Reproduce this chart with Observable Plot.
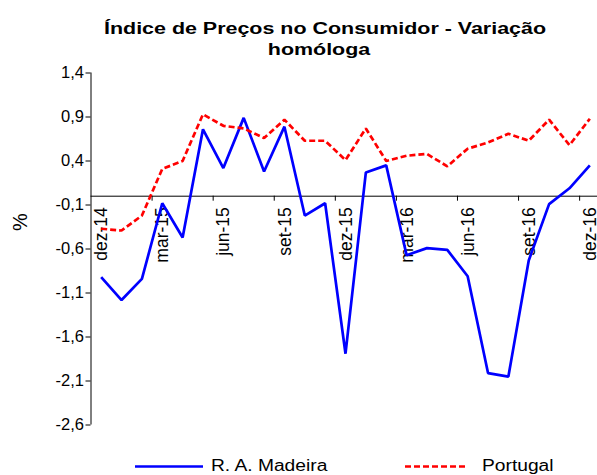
<!DOCTYPE html>
<html>
<head>
<meta charset="utf-8">
<script src="https://cdn.jsdelivr.net/npm/d3@7"></script>
<script src="https://cdn.jsdelivr.net/npm/@observablehq/plot@0.6"></script>
<style>
  html, body { margin: 0; padding: 0; background: #fff; }
  #wrap { position: relative; width: 597px; height: 475px; overflow: hidden; font-family: "Liberation Sans", Arial, sans-serif; color: #000; }
  #chart { position: absolute; left: 0; top: 0; }
  .title { position: absolute; white-space: nowrap; font-weight: bold; font-size: 16px; line-height: 16px; transform: translateX(-50%) scaleX(1.34); }
  #pct { position: absolute; left: 20px; top: 222px; font-size: 20px; line-height: 20px; transform: translate(-50%, -50%) rotate(-90deg); }
  .legtext { position: absolute; white-space: nowrap; font-size: 16px; line-height: 16px; transform-origin: 0 50%; transform: scaleX(1.2); }
  #legsw { position: absolute; left: 0; top: 0; }
</style>
</head>
<body>
<div id="wrap">
  <div id="chart"></div>
  <div class="title" id="t1" style="left:324.5px; top:20.5px;"></div>
  <div class="title" id="t2" style="left:319px; top:41.5px;"></div>
  <div id="pct">%</div>
  <svg id="legsw" width="597" height="475"></svg>
  <div class="legtext" id="l1" style="left:211px; top:457.5px;"></div>
  <div class="legtext" id="l2" style="left:482px; top:457.5px;"></div>
</div>
<script>
// ---- data ----
const titleLines = ["Índice de Preços no Consumidor - Variação", "homóloga"];
const months = ["dez-14","jan-15","fev-15","mar-15","abr-15","mai-15","jun-15","jul-15","ago-15","set-15","out-15","nov-15",
                "dez-15","jan-16","fev-16","mar-16","abr-16","mai-16","jun-16","jul-16","ago-16","set-16","out-16","nov-16","dez-16"];
const madeira  = [-0.92,-1.18,-0.94,-0.08,-0.47,0.76,0.32,0.89,0.28,0.79,-0.22,-0.08,
                  -1.79,0.27,0.35,-0.67,-0.59,-0.61,-0.91,-2.01,-2.05,-0.73,-0.09,0.09,0.35];
const portugal = [-0.37,-0.39,-0.22,0.31,0.40,0.93,0.80,0.77,0.66,0.87,0.63,0.63,
                  0.41,0.77,0.40,0.46,0.48,0.34,0.54,0.61,0.71,0.63,0.87,0.58,0.88];
const yTicks = [1.4,0.9,0.4,-0.1,-0.6,-1.1,-1.6,-2.1,-2.6];
const xLabels = ["dez-14","mar-15","jun-15","set-15","dez-15","mar-16","jun-16","set-16","dez-16"];
const seriesNames = ["R. A. Madeira","Portugal"];
const seriesColors = ["#0000ff","#ff0000"];

// ---- build ----
const data = months.map((m, i) => ({i, m, madeira: madeira[i], portugal: portugal[i]}));
const fmt = d => d.toFixed(1).replace(".", ",");
const labelIdx = xLabels.map(l => months.indexOf(l));
const xTickPos = labelIdx.filter(i => i > 0).map(i => i - 0.5);

const chart = Plot.plot({
  width: 597,
  height: 475,
  marginLeft: 90, marginRight: 0, marginTop: 72, marginBottom: 51,
  x: {type: "linear", domain: [-0.5, 24.5], range: [90.5, 599.5], axis: null},
  y: {type: "linear", domain: [-2.6, 1.4], range: [424.5, 72.5], axis: null},
  style: {fontFamily: "'Liberation Sans', Arial, sans-serif", background: "white", overflow: "visible", color: "black"},
  marks: [
    Plot.ruleY([0], {x1: -0.5, x2: 24.5, stroke: "black", strokeWidth: 1}),
    Plot.ruleX([-0.5], {y1: -2.6, y2: 1.4, stroke: "black", strokeWidth: 1}),
    Plot.ruleY(yTicks, {x1: -0.5, x2: -0.5, insetLeft: -5, stroke: "black", strokeWidth: 1}),
    Plot.ruleX(xTickPos, {y1: 0, y2: 0, insetBottom: -5, stroke: "black", strokeWidth: 1}),
    Plot.text(yTicks, {x: -0.5, y: d => d, text: fmt, textAnchor: "end", dx: -7, fontSize: 16.5, fill: "black", ariaLabel: "ylabels"}),
    Plot.text(labelIdx, {x: d => d, y: 0, text: d => months[d], rotate: -90, textAnchor: "end", dx: 0.5, dy: 11, fontSize: 17.5, fill: "black"}),
    Plot.line(data, {x: "i", y: "madeira", stroke: seriesColors[0], strokeWidth: 2.7, strokeLinejoin: "miter", strokeLinecap: "butt"}),
    Plot.line(data, {x: "i", y: "portugal", stroke: seriesColors[1], strokeWidth: 2.7, strokeDasharray: "6,3", strokeLinejoin: "miter", strokeLinecap: "butt"})
  ]
});
document.getElementById("chart").appendChild(chart);

// horizontal stretch of y tick labels (reference text is widened)
const yl = chart.querySelector('g[aria-label="ylabels"]');
if (yl) yl.querySelectorAll("text").forEach(t => {
  t.setAttribute("transform", (t.getAttribute("transform") || "") + " scale(1.38,1)");
});

document.getElementById("t1").textContent = titleLines[0];
document.getElementById("t2").textContent = titleLines[1];
document.getElementById("l1").textContent = seriesNames[0];
document.getElementById("l2").textContent = seriesNames[1];

// legend swatches
const sw = d3.select("#legsw");
sw.append("line").attr("x1", 135).attr("x2", 203).attr("y1", 466.5).attr("y2", 466.5)
  .attr("stroke", seriesColors[0]).attr("stroke-width", 2.7);
sw.append("line").attr("x1", 405).attr("x2", 465).attr("y1", 466.5).attr("y2", 466.5)
  .attr("stroke", seriesColors[1]).attr("stroke-width", 2.7).attr("stroke-dasharray", "6,3");
</script>
</body>
</html>
